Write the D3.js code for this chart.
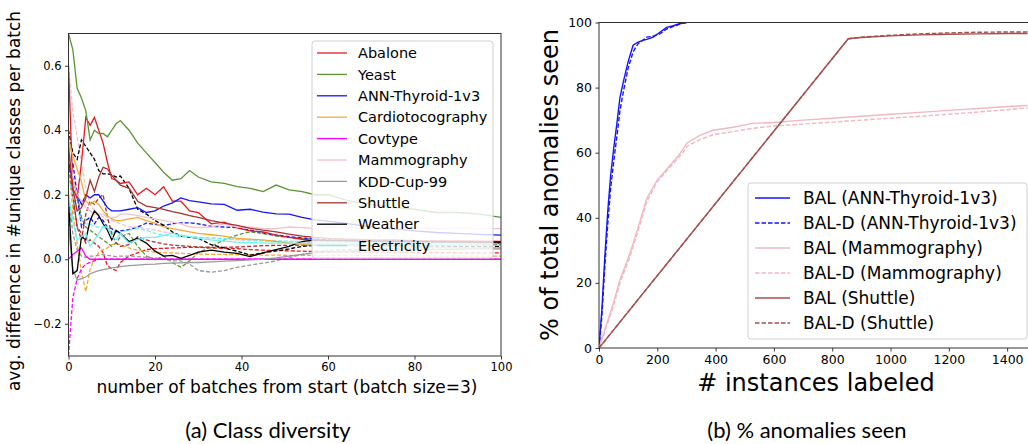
<!DOCTYPE html>
<html>
<head>
<meta charset="utf-8">
<script src="https://cdn.jsdelivr.net/npm/d3@7"></script>
<style>
  body { margin: 0; background: #fff; }
  text { font-family: "DejaVu Sans", sans-serif; fill: #000; }
</style>
</head>
<body>
<svg id="fig" width="1028" height="444"></svg>
<script>
// ---- (a) class diversity: batch index grid and per-dataset curves ----
var batchIdx = [0,1,2,3,4,5,6,7,8,9,10,11,12,
                14,16,18,20,22,24,26,28,30,
                33,36,39,42,45,48,51,54,57,60,
                65,70,75,80,85,90,95,100];

var datasetNames = ["Abalone", "Yeast", "ANN-Thyroid-1v3", "Cardiotocography", "Covtype",
                    "Mammography", "KDD-Cup-99", "Shuttle", "Weather", "Electricity"];

var abaloneBAL = [0.60,0.22,0.19,0.30,0.44,0.415,0.44,0.40,0.36,0.30,0.25,0.245,0.235,
                  0.24,0.20,0.22,0.20,0.225,0.18,0.18,0.15,0.145,
                  0.11,0.115,0.097,0.088,0.085,0.075,0.068,0.062,0.058,0.058,
                  0.06,0.058,0.06,0.058,0.057,0.057,0.056,0.055];
var abaloneBALD = [0.35,0.20,0.10,0.08,0.05,0.06,0.05,0.04,0.02,-0.02,-0.03,-0.035,-0.01,
                   0.01,0.02,0.03,0.033,0.034,0.035,0.036,0.037,0.037,
                   0.035,0.034,0.033,0.03,0.028,0.027,0.026,0.025,0.024,0.024,
                   0.023,0.022,0.022,0.021,0.021,0.02,0.02,0.02];
var yeastBAL = [0.70,0.65,0.53,0.50,0.46,0.37,0.40,0.39,0.39,0.38,0.40,0.42,0.43,
                0.40,0.36,0.33,0.30,0.27,0.245,0.25,0.275,0.255,
                0.24,0.235,0.225,0.22,0.21,0.23,0.215,0.21,0.20,0.20,
                0.18,0.17,0.16,0.155,0.145,0.145,0.14,0.13];
var yeastBALD = [0.10,0.15,0.20,0.13,0.10,0.09,0.08,0.07,0.06,0.05,0.04,0.05,0.07,
                 0.08,0.04,0.01,-0.002,0.01,-0.01,-0.025,-0.005,0.02,
                 0.04,0.06,0.075,0.085,0.08,0.072,0.068,0.065,0.062,0.06,
                 0.058,0.056,0.055,0.054,0.053,0.052,0.052,0.05];
var thyroidBAL = [0.30,0.25,0.20,0.17,0.20,0.19,0.20,0.20,0.18,0.16,0.15,0.15,0.15,
                  0.155,0.16,0.145,0.15,0.165,0.175,0.19,0.182,0.178,
                  0.172,0.17,0.152,0.155,0.146,0.141,0.14,0.13,0.122,0.118,
                  0.11,0.10,0.094,0.088,0.083,0.08,0.077,0.075];
var thyroidBALD = [0.25,0.30,0.20,0.10,0.12,0.13,0.11,0.13,0.12,0.10,0.095,0.085,0.088,
                   0.092,0.10,0.112,0.108,0.105,0.11,0.113,0.113,0.11,
                   0.102,0.10,0.098,0.09,0.082,0.075,0.07,0.066,0.063,0.06,
                   0.058,0.056,0.055,0.054,0.053,0.052,0.052,0.05];
var cardioBAL = [0.37,0.32,0.28,0.24,0.18,0.17,0.18,0.17,0.15,0.135,0.125,0.12,0.12,
                 0.125,0.13,0.12,0.112,0.10,0.095,0.09,0.085,0.08,
                 0.076,0.072,0.065,0.062,0.06,0.055,0.05,0.046,0.044,0.043,
                 0.042,0.04,0.04,0.038,0.037,0.036,0.036,0.035];
var cardioBALD = [0.30,0.15,0.05,-0.04,-0.10,-0.03,0.0,0.02,0.03,0.035,0.045,0.05,0.045,
                  0.035,0.028,0.025,0.022,0.02,0.02,0.018,0.017,0.016,
                  0.015,0.015,0.014,0.014,0.013,0.013,0.012,0.012,0.012,0.012,
                  0.011,0.011,0.011,0.01,0.01,0.01,0.01,0.01];
var covtypeBAL = [0.0,0.015,0.025,0.035,0.01,0,0,0,0,0,0,0,0,
                  0,0,0,0,0,0,0,0,0,
                  0,0,0,0,0,0,0,0,0,0,
                  0,0,0,0,0,0,0,0];
var covtypeBALD = [-0.30,-0.12,-0.06,-0.03,-0.015,-0.01,-0.005,0,0,0,0,0,0,
                   0,0,0,0,0,0,0,0,0,
                   0,0,0,0,0,0,0,0,0,0,
                   0,0,0,0,0,0,0,0];
var mammoBAL = [0.35,0.25,0.20,0.18,0.16,0.15,0.14,0.14,0.14,0.13,0.13,0.13,0.14,
                0.14,0.135,0.13,0.125,0.12,0.115,0.11,0.10,0.098,
                0.10,0.11,0.10,0.10,0.095,0.095,0.10,0.098,0.096,0.10,
                0.098,0.096,0.10,0.097,0.095,0.097,0.096,0.095];
var mammoBALD = [0.60,0.46,0.38,0.30,0.22,0.17,0.15,0.14,0.13,0.12,0.12,0.115,0.11,
                 0.10,0.10,0.095,0.09,0.085,0.08,0.075,0.07,0.068,
                 0.065,0.063,0.06,0.058,0.056,0.055,0.054,0.053,0.052,0.052,
                 0.05,0.05,0.05,0.05,0.048,0.047,0.047,0.046];
var kddBAL = [0.10,-0.03,-0.065,-0.06,-0.055,-0.045,-0.04,-0.035,-0.032,-0.03,-0.027,-0.025,-0.023,
              -0.02,-0.018,-0.016,-0.015,-0.013,-0.012,-0.011,-0.01,-0.01,
              -0.008,-0.006,-0.004,-0.002,0.0,0.004,0.01,0.015,0.02,0.022,
              0.025,0.027,0.028,0.03,0.03,0.031,0.032,0.032];
var kddBALD = [0.20,0.08,0.03,0.01,0.005,0.01,0.01,0.012,0.015,0.012,0.01,0.008,0.01,
               0.01,0.008,0.006,0.004,0.0,-0.005,-0.005,-0.015,-0.035,
               -0.04,-0.035,-0.025,-0.018,-0.012,-0.005,0.005,0.015,0.022,0.028,
               0.03,0.032,0.034,0.035,0.035,0.036,0.036,0.036];
var shuttleBAL = [0.35,0.22,0.15,0.16,0.19,0.245,0.21,0.255,0.285,0.28,0.26,0.245,0.23,
                  0.22,0.18,0.165,0.16,0.155,0.148,0.142,0.135,0.13,
                  0.12,0.112,0.105,0.096,0.09,0.085,0.078,0.072,0.068,0.065,
                  0.062,0.06,0.058,0.056,0.055,0.054,0.053,0.052];
var shuttleBALD = [0.30,0.20,0.10,0.06,0.14,0.18,0.17,0.19,0.20,0.13,0.08,0.05,0.04,
                   0.045,0.07,0.06,0.053,0.048,0.044,0.042,0.04,0.038,
                   0.037,0.037,0.038,0.04,0.042,0.043,0.043,0.044,0.044,0.044,
                   0.045,0.045,0.045,0.045,0.045,0.045,0.045,0.045];
var weatherBAL = [0.18,-0.045,-0.035,0.07,0.06,0.12,0.15,0.135,0.11,0.09,0.06,0.09,0.08,
                  0.055,0.065,0.05,0.025,0.01,0.012,0.003,0.012,0.022,
                  0.028,0.022,0.018,0.008,0.02,0.03,0.04,0.055,0.06,0.058,
                  0.057,0.056,0.055,0.055,0.054,0.054,0.053,0.053];
var weatherBALD = [0.40,0.33,0.31,0.37,0.35,0.33,0.31,0.275,0.265,0.265,0.262,0.255,0.258,
                   0.22,0.155,0.14,0.12,0.105,0.085,0.072,0.068,0.065,
                   0.045,0.035,0.025,0.013,0.02,0.026,0.032,0.04,0.043,0.044,
                   0.044,0.043,0.042,0.042,0.041,0.04,0.04,0.04];
var electricityBAL = [0.20,0.12,0.06,0.07,0.08,0.04,0.06,0.08,0.10,0.10,0.07,0.06,0.08,
                      0.05,0.062,0.068,0.068,0.074,0.08,0.074,0.07,0.065,
                      0.06,0.056,0.053,0.052,0.05,0.05,0.05,0.049,0.048,0.048,
                      0.047,0.046,0.046,0.045,0.045,0.045,0.044,0.044];
var electricityBALD = [0.25,0.20,0.15,0.12,0.11,0.11,0.10,0.10,0.10,0.095,0.085,0.08,0.085,
                       0.09,0.095,0.09,0.08,0.075,0.072,0.07,0.07,0.068,
                       0.066,0.064,0.062,0.06,0.058,0.057,0.056,0.055,0.054,0.054,
                       0.053,0.052,0.052,0.051,0.051,0.05,0.05,0.05];

var diversityTicksX = [0, 20, 40, 60, 80, 100];
var diversityTicksY = [-0.2, 0.0, 0.2, 0.4, 0.6];

// ---- (b) % anomalies seen ----
var thyroidInst = [0,10,20,30,40,50,60,72,84,100,117,134,150,164,186,209,232,255,278,300];
var thyroidSeenBAL = [0,12,28,42,53,61,68,77,82,88,93,94,94.5,94.8,95.5,97,98.5,99,99.7,100];
var thyroidSeenBALD = [0,10,25,38,49,57,64,73,79,86,91,93.5,94.5,95.5,95.8,96.5,98,98.8,99.5,100];

var mammoInst = [0,25,50,72,106,141,164,199,233,268,288,302,346,391,460,528,600,700,800,900,1000,1100,1200,1300,1400,1470];
var mammoSeenBAL = [0,7,14,21,29,39,46,51.5,55,58.6,61,63,65.3,66.9,67.8,69,69.3,70,70.6,71.2,71.8,72.4,73,73.6,74.2,74.5];
var mammoSeenBALD = [0,6.5,13,20,28,38,45,51,54.5,58,60,62,64,65.5,66.5,67.5,68.2,68.8,69.4,70,70.6,71.2,71.8,72.5,73.2,73.8];

var shuttleInst = [0,855,900,1000,1100,1200,1300,1400,1470];
var shuttleSeenBAL = [0,95,95.4,95.9,96.2,96.4,96.5,96.6,96.6];
var shuttleSeenBALD = [0,95,95.5,96.1,96.5,96.8,97,97.1,97.1];

var seenTicksX = [0, 200, 400, 600, 800, 1000, 1200, 1400];
var seenTicksY = [0, 20, 40, 60, 80, 100];

var svg = d3.select("#fig");
svg.append("rect").attr("width", 1028).attr("height", 444).attr("fill", "#fff");

function styleAxis(g, fontSize) {
    g.select(".domain").remove();
    g.selectAll(".tick line").attr("stroke", "#222").attr("stroke-width", 0.9);
    g.selectAll(".tick text").style("font-size", fontSize + "px").attr("fill", "#000");
}

function drawBox(g, x0, x1, y0, y1) {
    g.append("rect")
      .attr("x", x0).attr("y", y1)
      .attr("width", x1 - x0).attr("height", y0 - y1)
      .attr("fill", "none").attr("stroke", "#333").attr("stroke-width", 1);
}

/* ---------- panel (a) ---------- */
var ax = { left: 68.5, right: 501, top: 33.5, bottom: 356 };
var xa = d3.scaleLinear().domain([0, 100]).range([ax.left, ax.right]);
var ya = d3.scaleLinear().domain([-0.3, 0.7]).range([ax.bottom, ax.top]);

svg.append("clipPath").attr("id", "clipA")
  .append("rect").attr("x", ax.left).attr("y", ax.top)
  .attr("width", ax.right - ax.left).attr("height", ax.bottom - ax.top);

var diversity = [
    { name: "Abalone", color: "#e8181c", bal: abaloneBAL, bald: abaloneBALD },
    { name: "Yeast", color: "#5b9632", bal: yeastBAL, bald: yeastBALD },
    { name: "ANN-Thyroid-1v3", color: "#1515ff", bal: thyroidBAL, bald: thyroidBALD },
    { name: "Cardiotocography", color: "#f7a834", bal: cardioBAL, bald: cardioBALD },
    { name: "Covtype", color: "#ff00ff", bal: covtypeBAL, bald: covtypeBALD },
    { name: "Mammography", color: "#f5c2ca", bal: mammoBAL, bald: mammoBALD },
    { name: "KDD-Cup-99", color: "#9a9a9a", bal: kddBAL, bald: kddBALD },
    { name: "Shuttle", color: "#a8322f", bal: shuttleBAL, bald: shuttleBALD },
    { name: "Weather", color: "#000000", bal: weatherBAL, bald: weatherBALD },
    { name: "Electricity", color: "#6cf2f2", bal: electricityBAL, bald: electricityBALD }
];

var lineA = d3.line()
  .x(function(d) { return xa(d[0]); })
  .y(function(d) { return ya(d[1]); });

var linesA = svg.append("g").attr("clip-path", "url(#clipA)");
// dashed (BAL-D) first, solid (BAL) on top
diversity.forEach(function(s) {
    linesA.append("path")
      .datum(batchIdx.map(function(b, i) { return [b, s.bald[i]]; }))
      .attr("d", lineA).attr("fill", "none")
      .attr("stroke", s.color).attr("stroke-width", 1.3)
      .attr("stroke-dasharray", "4,2");
});
diversity.forEach(function(s) {
    linesA.append("path")
      .datum(batchIdx.map(function(b, i) { return [b, s.bal[i]]; }))
      .attr("d", lineA).attr("fill", "none")
      .attr("stroke", s.color).attr("stroke-width", 1.3);
});

var gxa = svg.append("g").attr("transform", "translate(0," + ax.bottom + ")")
  .call(d3.axisBottom(xa).tickValues(diversityTicksX).tickSize(3.5).tickPadding(3.5));
styleAxis(gxa, 11.5);
var gya = svg.append("g").attr("transform", "translate(" + ax.left + ",0)")
  .call(d3.axisLeft(ya).tickValues(diversityTicksY).tickFormat(d3.format(".1f")).tickSize(3.5).tickPadding(3.5));
styleAxis(gya, 11.5);
drawBox(svg, ax.left, ax.right, ax.bottom, ax.top);

// legend (a)
var legA = svg.append("g");
legA.append("rect")
  .attr("x", 312).attr("y", 41).attr("width", 181).attr("height", 217).attr("rx", 3)
  .attr("fill", "#fff").attr("fill-opacity", 0.8)
  .attr("stroke", "#d0d0d0").attr("stroke-width", 1);
diversity.forEach(function(s, i) {
    var yy = 53 + i * 21.4;
    legA.append("line").attr("x1", 317).attr("x2", 347).attr("y1", yy).attr("y2", yy)
      .attr("stroke", s.color).attr("stroke-width", 1.3);
    legA.append("text").attr("x", 358).attr("y", yy).attr("dy", "0.36em")
      .style("font-size", "14.5px").text(s.name);
});

svg.append("text")
  .attr("transform", "translate(20,201) rotate(-90)")
  .attr("text-anchor", "middle").style("font-size", "17px")
  .text("avg. difference in #unique classes per batch");
svg.append("text")
  .attr("x", 287).attr("y", 393).attr("text-anchor", "middle").style("font-size", "17px")
  .text("number of batches from start (batch size=3)");

/* ---------- panel (b) ---------- */
var bx = { left: 599, right: 1029, top: 22.5, bottom: 348 };
var xb = d3.scaleLinear().domain([0, 1475]).range([bx.left, bx.right]);
var yb = d3.scaleLinear().domain([0, 100]).range([bx.bottom, bx.top]);

svg.append("clipPath").attr("id", "clipB")
  .append("rect").attr("x", bx.left).attr("y", bx.top)
  .attr("width", bx.right - bx.left).attr("height", bx.bottom - bx.top);

var blue = "#1414ff", pink = "#f2b8c2", brown = "#a3504e";
var seen = [
    { name: "BAL (ANN-Thyroid-1v3)", color: blue, dash: false, x: thyroidInst, y: thyroidSeenBAL },
    { name: "BAL-D (ANN-Thyroid-1v3)", color: blue, dash: true, x: thyroidInst, y: thyroidSeenBALD },
    { name: "BAL (Mammography)", color: pink, dash: false, x: mammoInst, y: mammoSeenBAL },
    { name: "BAL-D (Mammography)", color: pink, dash: true, x: mammoInst, y: mammoSeenBALD },
    { name: "BAL (Shuttle)", color: brown, dash: false, x: shuttleInst, y: shuttleSeenBAL },
    { name: "BAL-D (Shuttle)", color: brown, dash: true, x: shuttleInst, y: shuttleSeenBALD }
];

var lineB = d3.line()
  .x(function(d) { return xb(d[0]); })
  .y(function(d) { return yb(d[1]); });

var linesB = svg.append("g").attr("clip-path", "url(#clipB)");
seen.forEach(function(s) {
    linesB.append("path")
      .datum(s.x.map(function(v, i) { return [v, s.y[i]]; }))
      .attr("d", lineB).attr("fill", "none")
      .attr("stroke", s.color).attr("stroke-width", 1.4)
      .attr("stroke-dasharray", s.dash ? "4.5,2" : null);
});

var gxb = svg.append("g").attr("transform", "translate(0," + bx.bottom + ")")
  .call(d3.axisBottom(xb).tickValues(seenTicksX).tickFormat(d3.format("d")).tickSize(3.5).tickPadding(3.5));
styleAxis(gxb, 12.5);
var gyb = svg.append("g").attr("transform", "translate(" + bx.left + ",0)")
  .call(d3.axisLeft(yb).tickValues(seenTicksY).tickFormat(d3.format("d")).tickSize(3.5).tickPadding(3.5));
styleAxis(gyb, 12.5);
drawBox(svg, bx.left, bx.right, bx.bottom, bx.top);

var legB = svg.append("g");
legB.append("rect")
  .attr("x", 748).attr("y", 183).attr("width", 279).attr("height", 156).attr("rx", 3)
  .attr("fill", "#fff").attr("fill-opacity", 0.8)
  .attr("stroke", "#d0d0d0").attr("stroke-width", 1);
seen.forEach(function(s, i) {
    var yy = 198 + i * 25;
    legB.append("line").attr("x1", 755).attr("x2", 790).attr("y1", yy).attr("y2", yy)
      .attr("stroke", s.color).attr("stroke-width", 1.4)
      .attr("stroke-dasharray", s.dash ? "4.5,2" : null);
    legB.append("text").attr("x", 803).attr("y", yy).attr("dy", "0.36em")
      .style("font-size", "17px").text(s.name);
});

svg.append("text")
  .attr("transform", "translate(558,185) rotate(-90)")
  .attr("text-anchor", "middle").style("font-size", "24px")
  .text("% of total anomalies seen");
svg.append("text")
  .attr("x", 816).attr("y", 391).attr("text-anchor", "middle").style("font-size", "24px")
  .text("# instances labeled");

// captions
svg.append("text").attr("x", 268).attr("y", 438).attr("text-anchor", "middle")
  .style("font-family", "Lato, sans-serif").style("font-size", "22px")
  .text("(a) Class diversity");
svg.append("text").attr("x", 807).attr("y", 438).attr("text-anchor", "middle")
  .style("font-family", "Lato, sans-serif").style("font-size", "22px")
  .text("(b) % anomalies seen");
</script>
</body>
</html>
